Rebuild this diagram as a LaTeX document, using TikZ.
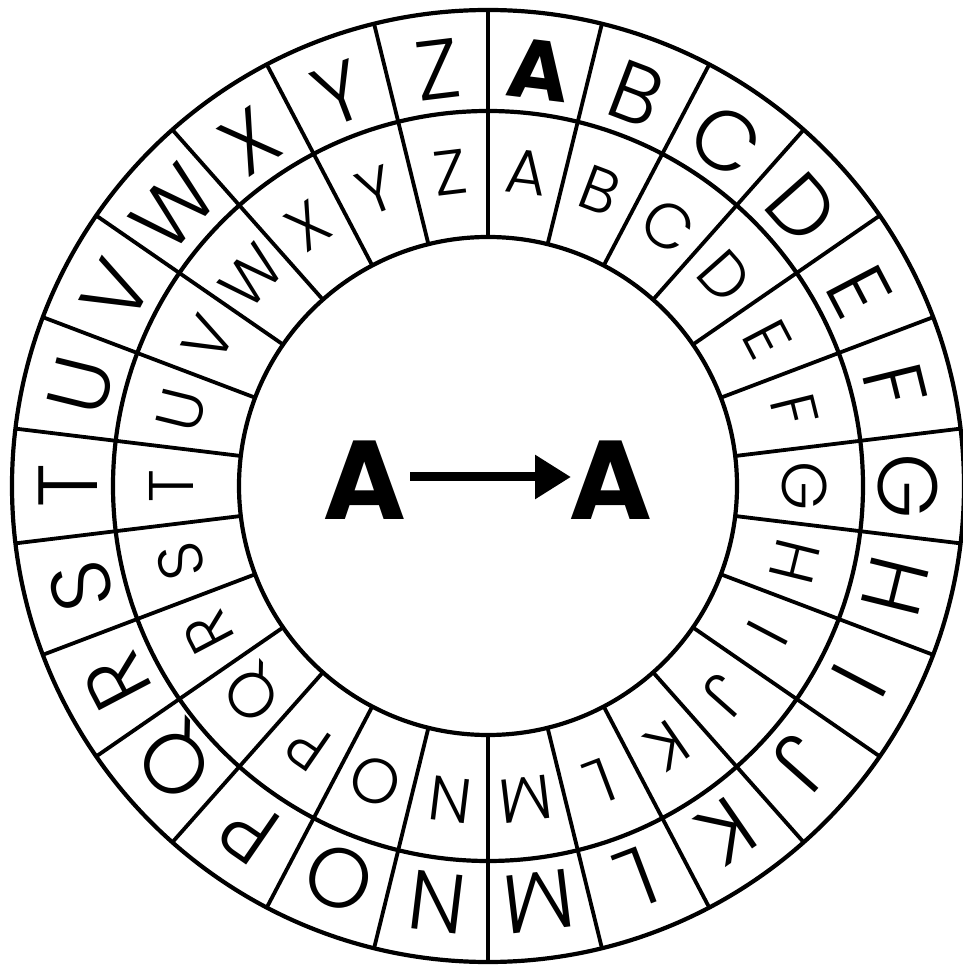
\documentclass[tikz,border=0pt]{standalone}
\usepackage{fontspec}
\setmainfont{Poppins}
\newfontfamily\wheelfont{Poppins Light}
\usetikzlibrary{arrows.meta}
\begin{document}
\begin{tikzpicture}[x=1pt,y=1pt,
  ring/.style={line width=4.2pt},
  spoke/.style={line width=3.8pt},
  outerletter/.style={font=\wheelfont\fontsize{84}{84}\selectfont, inner sep=0pt, text height=58pt, text depth=0pt},
  innerletter/.style={font=\wheelfont\fontsize{63}{63}\selectfont, inner sep=0pt, text height=44pt, text depth=0pt},
  centerletter/.style={font=\fontsize{112}{112}\bfseries\selectfont, inner sep=0pt, text height=78pt, text depth=0pt}]
\useasboundingbox (-488,-479) rectangle (474,486);
\coordinate (O) at (0,0);
% rings
\draw[ring] (O) circle[radius=476];
\draw[ring] (O) circle[radius=375];
\draw[ring] (O) circle[radius=249];
% spokes
\foreach \k in {0,...,25}{
  \draw[spoke] ({90-\k*360/26}:249) -- ({90-\k*360/26}:476);
}
% letters
\foreach \l [count=\i from 0] in {A,B,C,D,E,F,G,H,I,J,K,L,M,N,O,P,Q,R,S,T,U,V,W,X,Y,Z}{
  \pgfmathsetmacro{\ang}{90-(\i+0.5)*360/26}
  \ifnum\i=0
    \node[outerletter, font=\fontsize{84}{84}\bfseries\selectfont, rotate=\ang-90] (o\i) at (\ang:419) {\l};
  \else
    \node[outerletter, rotate=\ang-90] (o\i) at (\ang:419) {\l};
  \fi
  \node[innerletter, rotate=\ang-90] (n\i) at (\ang:316) {\l};
}
% center
\node[centerletter] (c1) at (-123,5) {A};
\node[centerletter] (c2) at (123,5) {A};
\coordinate (s) at (-78,9);
\coordinate (e) at (83,9);
\draw[line width=9pt, -{Triangle[length=36pt,width=42pt]}] (s) -- (e);
\end{tikzpicture}
\end{document}
